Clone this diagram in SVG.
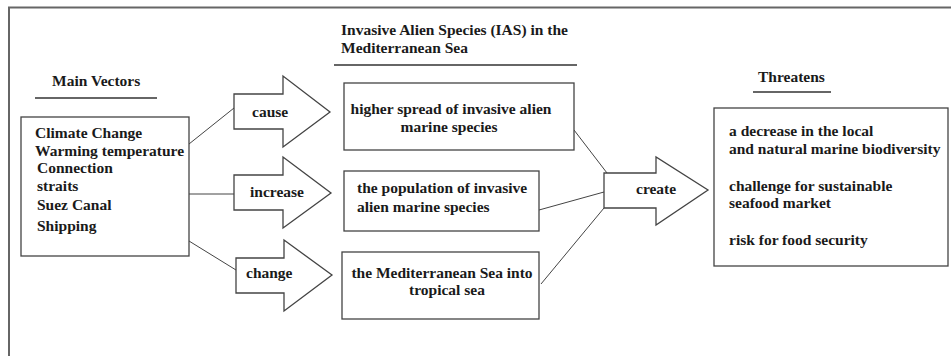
<svg xmlns="http://www.w3.org/2000/svg" width="951" height="356" viewBox="0 0 951 356">
<style>
.t{font-family:"Liberation Serif","Times New Roman",serif;font-weight:bold;font-size:15.5px;fill:#1a1a1a}
.b{fill:#fff;stroke:#444;stroke-width:1.3}
.l{fill:none;stroke:#444;stroke-width:1}
.u{stroke:#333;stroke-width:1.3}
</style>
<rect width="951" height="356" fill="#fff"/>
<path d="M9,356 V7.5 H951" fill="none" stroke="#666" stroke-width="2"/>
<g id="connectors">
<line class="l" x1="189" y1="144" x2="234" y2="108"/>
<line class="l" x1="189" y1="194" x2="234" y2="194"/>
<line class="l" x1="189" y1="241" x2="236" y2="270"/>
<line class="l" x1="574" y1="130" x2="607" y2="173"/>
<line class="l" x1="539" y1="210" x2="604" y2="192"/>
<line class="l" x1="541" y1="284" x2="604" y2="208"/>
</g>
<g id="main-vectors-title">
<text class="t" x="52" y="86">Main Vectors</text>
<line class="u" x1="35" y1="98" x2="157" y2="98"/>
</g>
<g id="main-vectors">
<rect class="b" x="21" y="117" width="168" height="139"/>
<text class="t" x="35" y="138">Climate Change</text>
<text class="t" x="35" y="156">Warming temperature</text>
<text class="t" x="37" y="173">Connection</text>
<text class="t" x="37" y="191">straits</text>
<text class="t" x="37" y="210">Suez Canal</text>
<text class="t" x="37" y="231">Shipping</text>
</g>
<g id="arrow-cause">
<polygon class="b" points="234,94 283,94 283,76 330,112 283,147 283,129 234,129"/>
<text class="t" x="252" y="117">cause</text>
</g>
<g id="arrow-increase">
<polygon class="b" points="234,175 283,175 283,157 331,193 283,228 283,210 234,210"/>
<text class="t" x="250" y="197">increase</text>
</g>
<g id="arrow-change">
<polygon class="b" points="236,258 284,258 284,240 332,275 284,311 284,293 236,293"/>
<text class="t" x="246" y="278">change</text>
</g>
<g id="ias-title">
<text class="t" x="341" y="35">Invasive Alien Species (IAS) in the</text>
<text class="t" x="341" y="53">Mediterranean Sea</text>
<line class="u" x1="334" y1="65" x2="577" y2="65"/>
</g>
<g id="spread">
<rect class="b" x="344" y="83" width="230" height="67"/>
<text class="t" x="451" y="114" text-anchor="middle">higher spread of invasive alien</text>
<text class="t" x="449" y="132" text-anchor="middle">marine species</text>
</g>
<g id="population">
<rect class="b" x="344" y="171" width="195" height="60"/>
<text class="t" x="357" y="193">the population of invasive</text>
<text class="t" x="357" y="212">alien marine species</text>
</g>
<g id="tropical">
<rect class="b" x="342" y="252" width="197" height="67"/>
<text class="t" x="442" y="278" text-anchor="middle">the Mediterranean Sea into</text>
<text class="t" x="447" y="295" text-anchor="middle">tropical sea</text>
</g>
<g id="arrow-create">
<polygon class="b" points="604,173 656,173 656,157 708,190 656,225 656,208 604,208"/>
<text class="t" x="636" y="194">create</text>
</g>
<g id="threatens-title">
<text class="t" x="758" y="82">Threatens</text>
<line class="u" x1="753" y1="92" x2="831" y2="92"/>
</g>
<g id="threatens">
<rect class="b" x="714" y="108" width="234" height="158"/>
<text class="t" x="729" y="136">a decrease in the local</text>
<text class="t" x="729" y="154">and natural marine biodiversity</text>
<text class="t" x="729" y="191">challenge for sustainable</text>
<text class="t" x="729" y="208">seafood market</text>
<text class="t" x="729" y="245">risk for food security</text>
</g>
</svg>
